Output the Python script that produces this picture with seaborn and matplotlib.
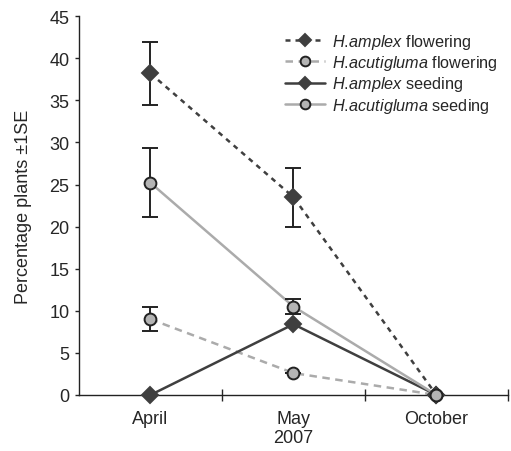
import numpy as np
import pandas as pd
import matplotlib
matplotlib.use("Agg")
import matplotlib.pyplot as plt
import seaborn as sns

months = ["April", "May", "October"]
amplex_flower = [38.2, 23.5, 0.0]
amplex_flower_se = [3.7, 3.5, 0.0]
acuti_flower = [9.0, 2.6, 0.0]
acuti_flower_se = [1.4, 0.0, 0.0]
amplex_seed = [0.0, 8.4, 0.0]
amplex_seed_se = [0.0, 0.0, 0.0]
acuti_seed = [25.2, 10.5, 0.0]
acuti_seed_se = [4.1, 0.9, 0.0]

sns.set_theme(style="ticks")
plt.rcParams["font.family"] = ["Liberation Sans", "DejaVu Sans"]
plt.rcParams["mathtext.fontset"] = "custom"
plt.rcParams["mathtext.it"] = "Liberation Sans:italic"
plt.rcParams["mathtext.rm"] = "Liberation Sans"

dark = "#3f3f3f"
light = "#ababab"
x = np.arange(len(months))

fig = plt.figure(figsize=(5.11, 4.52), dpi=100)
ax = fig.add_axes([0.1546, 0.124, 0.8394, 0.838])

series = [
    (r"$\it{H.\!amplex}$ flowering", amplex_flower, amplex_flower_se, dark, "D", dark, (2, 2)),
    (r"$\it{H.\!acutigluma}$ flowering", acuti_flower, acuti_flower_se, light, "o", "#b4b4b4", (3, 2.2)),
    (r"$\it{H.\!amplex}$ seeding", amplex_seed, amplex_seed_se, dark, "D", dark, None),
    (r"$\it{H.\!acutigluma}$ seeding", acuti_seed, acuti_seed_se, light, "o", "#b4b4b4", None),
]

handles = []
for label, vals, se, col, mk, fc, dash in series:
    df = pd.DataFrame({"x": x, "y": vals})
    sns.lineplot(data=df, x="x", y="y", ax=ax, color=col, lw=1.8, zorder=2)
    line = ax.lines[-1]
    if dash is not None:
        line.set_dashes(dash)
    ec = dark if mk == "D" else "#222222"
    ms = 8 if mk == "D" else 8.5
    ax.errorbar(x, vals, yerr=se, fmt="none", ecolor="#222222", elinewidth=1.4,
                capsize=5.5, capthick=1.4, zorder=3)
    ax.plot(x, vals, ls="none", marker=mk, ms=ms, mfc=fc, mec=ec, mew=1.4, zorder=4,
            clip_on=False)
    h, = ax.plot([], [], color=col, lw=1.8, marker=mk, ms=ms - 1.5, mfc=fc, mec=ec, mew=1.4,
                 ls="-" if dash is None else (0, dash))
    handles.append((h, label))

ax.legend([h for h, _ in handles], [l for _, l in handles], loc="upper right",
          bbox_to_anchor=(1.0, 0.985), frameon=False, fontsize=11.7, handlelength=2.5,
          handletextpad=0.45, labelspacing=0.15, borderaxespad=0.2)

ax.set_xlim(-0.5, 2.5)
ax.set_ylim(0, 45)
ax.set_yticks(np.arange(0, 46, 5))
ax.set_xticks(x, months)
ax.set_xticks([0.5, 1.5, 2.5], minor=True)
ax.tick_params(axis="x", which="major", length=0, labelsize=13, pad=11)
ax.tick_params(axis="x", which="minor", length=8, direction="inout", width=1)
ax.tick_params(axis="y", length=3, width=1, labelsize=13, pad=4)
ax.set_xlabel("2007", fontsize=13, labelpad=1)
ax.set_ylabel("Percentage plants \u00b11SE", fontsize=13, labelpad=12)
for s in ["top", "right"]:
    ax.spines[s].set_visible(False)
for s in ["left", "bottom"]:
    ax.spines[s].set_color("#222222")
    ax.spines[s].set_linewidth(1)

fig.savefig("out.png", dpi=100)
